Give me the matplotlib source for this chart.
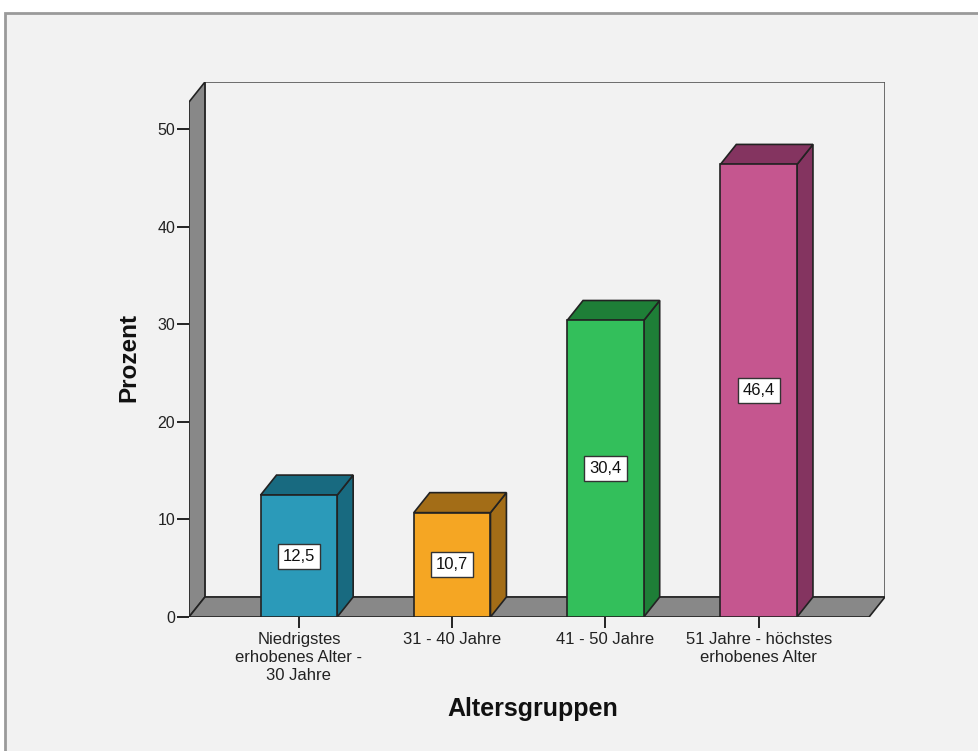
import matplotlib.pyplot as plt
from matplotlib.patches import Polygon, Rectangle

categories = ['Niedrigstes\nerhobenes Alter -\n30 Jahre', '31 - 40 Jahre',
              '41 - 50 Jahre', '51 Jahre - höchstes\nerhobenes Alter']
values = [12.5, 10.7, 30.4, 46.4]
labels = ['12,5', '10,7', '30,4', '46,4']
front_colors = ['#2b9ab9', '#f5a623', '#33bf5b', '#c5568f']
side_colors = ['#186a80', '#a36d17', '#1e7e37', '#843460']

plt.rcParams['font.family'] = ['Liberation Sans', 'DejaVu Sans']

W, H = 979, 751
fig = plt.figure(figsize=(W / 100, H / 100), dpi=100)
fig.patch.set_facecolor('white')
fig.patches.append(Rectangle((5 / W, -0.01), 1.0, (751 - 13) / H + 0.01,
                             transform=fig.transFigure, facecolor='#f2f2f2',
                             edgecolor='#9a9a9a', lw=2, zorder=-10))

# axes box spans the front-left corner to the back-right corner of the 3D frame
ax = fig.add_axes([189 / W, (H - 617) / H, (885 - 189) / W, (617 - 82) / H])
ax.set_facecolor('none')
x0, x1 = -0.717, 3.72
ytop = 52.8
dx, dy = 0.104, 2.05
bw = 0.5
ax.set_xlim(x0, x1 + dx)
ax.set_ylim(0, ytop + dy)
for s in ax.spines.values():
    s.set_visible(False)

edge = '#222222'
# back wall
ax.add_patch(Rectangle((x0 + dx, dy), x1 - x0, ytop, facecolor='#f2f2f2',
                       edgecolor='#555555', lw=1.2, zorder=1))
# left wall
ax.add_patch(Polygon([(x0, 0), (x0, ytop), (x0 + dx, ytop + dy), (x0 + dx, dy)],
                     closed=True, facecolor='#888888', edgecolor=edge, lw=1.2, zorder=2))
# floor
ax.add_patch(Polygon([(x0, 0), (x1, 0), (x1 + dx, dy), (x0 + dx, dy)],
                     closed=True, facecolor='#888888', edgecolor=edge, lw=1.2, zorder=2))

for i, (v, fc, sc, lab) in enumerate(zip(values, front_colors, side_colors, labels)):
    l, r = i - bw / 2, i + bw / 2
    ax.add_patch(Polygon([(r, 0), (r, v), (r + dx, v + dy), (r + dx, dy)],
                         closed=True, facecolor=sc, edgecolor=edge, lw=1.2, zorder=3))
    ax.add_patch(Polygon([(l, v), (r, v), (r + dx, v + dy), (l + dx, v + dy)],
                         closed=True, facecolor=sc, edgecolor=edge, lw=1.2, zorder=3))
    ax.add_patch(Rectangle((l, 0), bw, v, facecolor=fc, edgecolor=edge, lw=1.2, zorder=4))
    ax.text(i, v / 2, lab, ha='center', va='center', fontsize=12, color='#111111', zorder=5,
            bbox=dict(boxstyle='square,pad=0.3', facecolor='white', edgecolor='#333333', lw=1))

ax.set_yticks(range(0, 51, 10))
ax.set_xticks(range(len(categories)))
ax.set_xticklabels(categories, fontsize=12, color='#222222', linespacing=1.25)
ax.tick_params(axis='y', length=9, width=1.2, pad=1, labelsize=11.5, labelcolor='#222222')
ax.tick_params(axis='x', length=8, width=1.2, pad=3)

fig.text(129 / W, 1 - 358 / H, 'Prozent', rotation=90, ha='center', va='center',
         fontsize=17.5, fontweight='bold', color='#111111')
fig.text(533 / W, 1 - 709 / H, 'Altersgruppen', ha='center', va='center',
         fontsize=18, fontweight='bold', color='#111111')

fig.savefig('out.png', dpi=100, facecolor='white')
